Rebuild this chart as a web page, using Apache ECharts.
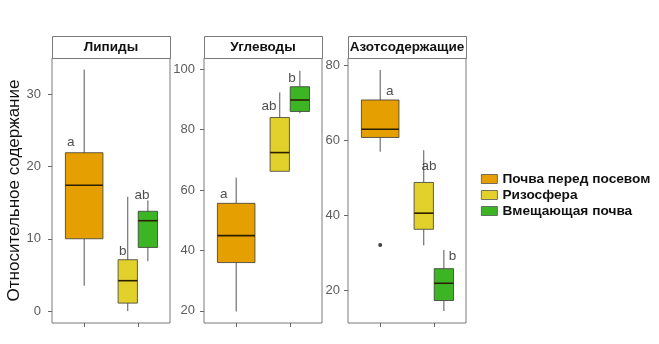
<!DOCTYPE html>
<html>
<head>
<meta charset="utf-8">
<script src="https://cdn.jsdelivr.net/npm/echarts@6/dist/echarts.min.js"></script>
<style>
  html, body { margin: 0; background: #fff; }
  #chart { width: 659px; height: 344px; }
</style>
</head>
<body>
<div id="chart"></div>
<script>
  const panels = ['Липиды', 'Углеводы', 'Азотсодержащие']
  const groups = ['Почва перед посевом', 'Ризосфера', 'Вмещающая почва']
  // [min, q1, median, q3, max] for each group
  const lipids = [[3.5, 10.0, 17.4, 21.9, 33.4], [0.0, 1.1, 4.2, 7.1, 15.8], [6.9, 8.8, 12.5, 13.8, 15.3]]
  const carbs = [[19.8, 36.0, 44.9, 55.6, 64.1], [66.2, 66.2, 72.4, 84.0, 92.3], [85.4, 86.0, 89.8, 94.2, 99.5]]
  const nitrogen = [[56.9, 60.7, 62.9, 70.7, 78.7], [31.9, 36.2, 40.5, 48.7, 57.3], [14.4, 17.2, 21.8, 25.7, 30.7]]
  const stats = [lipids, carbs, nitrogen]
  // outliers: [panel, group, value]
  const outliers = [[2, 0, 32.0]]
  // significance letters
  const letters = [['a', 'b', 'ab'], ['a', 'ab', 'b'], ['a', 'ab', 'b']]
  const letterX = [[0.75, 1.72, 2.08], [0.77, 1.61, 2.04], [1.18, 1.91, 2.35]]
  const letterY = [[23.3, 8.2, 16.0], [58.7, 87.8, 97.1], [73.1, 53.1, 28.9]]
  const yTicks = [[0, 10, 20, 30], [20, 40, 60, 80, 100], [20, 40, 60, 80]]
  const yRange = [[-1.65, 35.0], [16.0, 103.7], [11.2, 81.9]]

  const colors = ['#E69F00', '#E3D12B', '#3DB423']
  const groupPos = [1, 2 - 0.1875, 2 + 0.1875] // dodged positions
  const boxW = [0.7, 0.36, 0.36]
  const lefts = [52, 204, 348]
  const labelMargin = [11, 9, 8]
  const panelW = 118
  const gridTop = 58, gridBottom = 21

  const chart = echarts.init(document.getElementById('chart'))

  const makeRender = (w) => (params, api) => {
    const x = api.value(0)
    const p = [1, 2, 3, 4, 5].map(i => api.coord([x, api.value(i)]))
    const cx = p[0][0]
    const half = api.size([w, 0])[0] / 2
    const wl = { stroke: '#555', lineWidth: 1 }
    return {
      type: 'group',
      children: [
        { type: 'line', shape: { x1: cx, y1: p[0][1], x2: cx, y2: p[1][1] }, style: wl },
        { type: 'line', shape: { x1: cx, y1: p[3][1], x2: cx, y2: p[4][1] }, style: wl },
        { type: 'rect', shape: { x: cx - half, y: p[3][1], width: half * 2, height: p[1][1] - p[3][1] },
          style: { fill: api.visual('color'), stroke: '#3a3a3a', lineWidth: 0.8 } },
        { type: 'line', shape: { x1: cx - half, y1: p[2][1], x2: cx + half, y2: p[2][1] },
          style: { stroke: '#2b2000', lineWidth: 1.6 } }
      ]
    }
  }

  const grid = [], xAxis = [], yAxis = [], series = [], graphic = []
  panels.forEach((name, k) => {
    grid.push({ left: lefts[k], width: panelW, top: gridTop, bottom: gridBottom, show: true,
      borderColor: '#7a7a7a', borderWidth: 1, containLabel: false, outerBoundsMode: 'none' })
    xAxis.push({ type: 'value', gridIndex: k, min: 0.4, max: 2.6,
      axisLine: { show: false, onZero: false }, splitLine: { show: false }, axisLabel: { show: false },
      axisTick: { show: true, customValues: [1, 2], length: 4, lineStyle: { color: '#666' } } })
    yAxis.push({ type: 'value', gridIndex: k, min: yRange[k][0], max: yRange[k][1],
      axisLine: { show: false, onZero: false }, splitLine: { show: false },
      axisTick: { show: true, customValues: yTicks[k], length: 4, lineStyle: { color: '#666' } },
      axisLabel: { customValues: yTicks[k], color: '#5c5c5c', fontSize: 13, margin: labelMargin[k],
        fontFamily: 'Liberation Sans' },
      name: k === 0 ? 'Относительное содержание' : '',
      nameLocation: 'middle', nameGap: 16,
      nameTextStyle: { fontSize: 17, color: '#111', fontFamily: 'Liberation Sans' } })

    groups.forEach((g, j) => {
      series.push({
        name: g, type: 'custom', xAxisIndex: k, yAxisIndex: k,
        itemStyle: { color: colors[j] },
        encode: { x: 0, y: [1, 2, 3, 4, 5] },
        renderItem: makeRender(boxW[j]),
        data: [[groupPos[j], ...stats[k][j]]]
      })
    })

    series.push({
      type: 'scatter', xAxisIndex: k, yAxisIndex: k, symbolSize: 0, silent: true,
      label: { show: true, position: 'inside', formatter: p => p.value[2],
        color: '#222', fontSize: 13.5, fontFamily: 'Liberation Sans' },
      data: letters[k].map((t, j) => [letterX[k][j], letterY[k][j], t])
    })

    const out = outliers.filter(o => o[0] === k)
    if (out.length) {
      series.push({
        type: 'scatter', xAxisIndex: k, yAxisIndex: k, symbolSize: 4, silent: true,
        itemStyle: { color: '#111' },
        data: out.map(o => [Math.round(groupPos[o[1]]), o[2]])
      })
    }

    graphic.push({ type: 'rect', left: lefts[k], top: 36,
      shape: { width: panelW, height: 22 }, style: { fill: '#fff', stroke: '#7a7a7a', lineWidth: 1 } })
    graphic.push({ type: 'text', x: lefts[k] + panelW / 2, y: 47,
      style: { text: name, fill: '#111', font: 'bold 13.5px "Liberation Sans"', align: 'center', verticalAlign: 'middle' } })
  })

  chart.setOption({
    animation: false,
    grid, xAxis, yAxis, series, graphic,
    legend: {
      data: groups, orient: 'vertical', left: 476, top: 167, itemGap: 2,
      itemWidth: 16, itemHeight: 9, icon: 'rect', selectedMode: false,
      itemStyle: { borderColor: '#555', borderWidth: 0.8 },
      textStyle: { fontSize: 13.7, fontWeight: 'bold', color: '#111', fontFamily: 'Liberation Sans' }
    }
  })
</script>
</body>
</html>
